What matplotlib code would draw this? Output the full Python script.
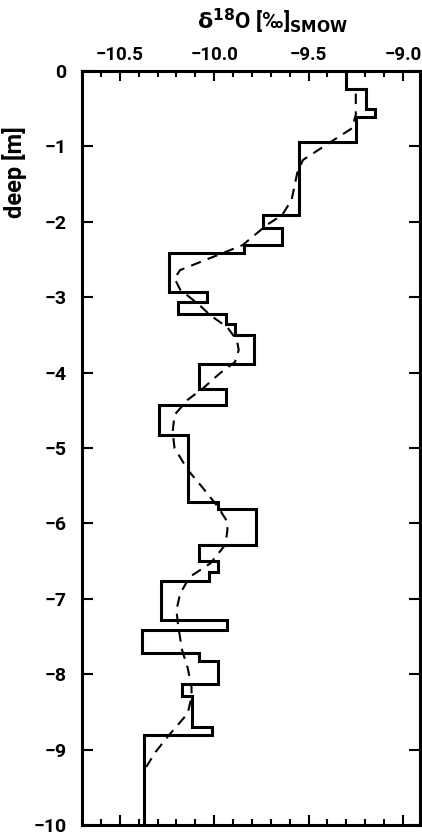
import numpy as np
import matplotlib
matplotlib.use('Agg')
import matplotlib.pyplot as plt
from matplotlib.ticker import MultipleLocator, FixedLocator

plt.rcParams['font.family'] = ['Roboto', 'DejaVu Sans']
plt.rcParams['font.weight'] = 'bold'
plt.rcParams['mathtext.fontset'] = 'dejavusans'
plt.rcParams['mathtext.default'] = 'bf'

# measured step profile: layer boundaries (m) and delta18O per layer
layer_edges = [0, -0.24, -0.50, -0.61, -0.94, -1.91, -2.08, -2.31, -2.42, -2.93,
               -3.06, -3.22, -3.36, -3.50, -3.88, -4.22, -4.43, -4.83, -5.72, -5.81,
               -6.29, -6.50, -6.65, -6.76, -7.28, -7.41, -7.72, -7.82, -8.13, -8.29,
               -8.70, -8.81, -10.0]
layer_d18o = [-9.30, -9.195, -9.147, -9.25, -9.55, -9.74, -9.64, -9.84, -10.24, -10.04,
              -10.19, -9.94, -9.89, -9.79, -10.08, -9.94, -10.29, -10.14, -9.98, -9.78,
              -10.08, -9.98, -10.03, -10.28, -9.93, -10.38, -10.08, -9.98, -10.17, -10.12,
              -10.01, -10.37]

# smoothed curve (dashed)
smooth_depth = [-0.30, -0.58, -0.76, -0.92, -1.18, -1.35, -1.71, -1.91, -2.04, -2.31,
                -2.48, -2.64, -2.75, -2.90, -3.10, -3.24, -3.40, -3.57, -3.70, -3.86,
                -4.01, -4.21, -4.36, -4.56, -4.79, -5.00, -5.29, -5.53, -5.78, -5.98,
                -6.09, -6.28, -6.53, -6.71, -6.93, -7.15, -7.37, -7.68, -7.92, -8.17,
                -8.30, -8.52, -8.81, -9.03, -9.23]
smooth_d18o = [-9.25, -9.25, -9.27, -9.37, -9.53, -9.56, -9.59, -9.64, -9.72, -9.85,
               -10.02, -10.18, -10.21, -10.18, -10.08, -10.02, -9.93, -9.88, -9.87, -9.89,
               -9.97, -10.06, -10.14, -10.21, -10.22, -10.21, -10.14, -10.06, -9.98, -9.93,
               -9.93, -9.94, -10.02, -10.13, -10.18, -10.20, -10.19, -10.17, -10.14, -10.12,
               -10.12, -10.14, -10.24, -10.31, -10.36]

x_ticks = [-10.5, -10.0, -9.5, -9.0]
x_ticklabels = ['\u221210.5', '\u221210.0', '\u22129.5', '\u22129.0']
y_ticks = list(range(0, -11, -1))
y_ticklabels = ['0'] + ['\u2212' + str(-v) for v in y_ticks[1:]]

fig = plt.figure(figsize=(4.22, 8.35), dpi=100)
ax = fig.add_axes([82 / 422, 10 / 835, 338 / 422, 754 / 835])

ax.stairs(layer_d18o, layer_edges, orientation='horizontal', baseline=None,
          color='black', linewidth=2.2)
ax.plot(smooth_d18o, smooth_depth, color='black', linewidth=1.5,
        linestyle=(0, (5, 3.5)))

ax.set_xlim(-10.7, -8.91)
ax.set_ylim(-10, 0)

ax.xaxis.set_major_locator(FixedLocator(x_ticks))
ax.xaxis.set_minor_locator(MultipleLocator(0.1))
ax.set_xticklabels(x_ticklabels)
ax.yaxis.set_major_locator(FixedLocator(y_ticks))
ax.set_yticklabels(y_ticklabels)

ax.tick_params(axis='x', which='both', direction='in', top=True, bottom=True,
               labeltop=True, labelbottom=False, width=1.5, labelsize=13.5, pad=5)
ax.tick_params(axis='x', which='major', length=7)
ax.tick_params(axis='x', which='minor', length=4)
ax.tick_params(axis='y', which='major', direction='in', left=True, right=True,
               length=8, width=1.5, labelsize=14, pad=11)

for sp in ax.spines.values():
    sp.set_linewidth(2.2)

ax.set_ylabel('deep [m]', fontsize=17, fontweight='bold')
ax.yaxis.set_label_coords(-0.163, 0.866)

fig.text(273 / 422, 1 - 21 / 835, r'$\delta^{18}$O [‰]$_{\mathrm{SMOW}}$',
         ha='center', va='center', fontsize=16, fontweight='bold')

fig.savefig('out.png', dpi=100)
